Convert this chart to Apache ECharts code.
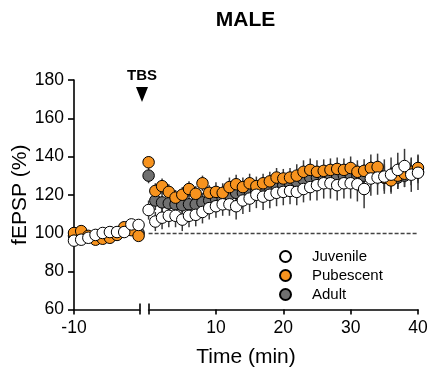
<!DOCTYPE html>
<html><head><meta charset="utf-8">
<script src="https://cdn.jsdelivr.net/npm/echarts@6/dist/echarts.min.js"></script>
<style>html,body{margin:0;padding:0;background:#fff}#c{width:432px;height:379px}</style>
</head><body><div id="c"></div>
<script>
// ---- data ----
const timePre = [-10, -9, -8, -7, -6, -5, -4, -3, -2, -1];
const timePost = [0,1,2,3,4,5,6,7,8,9,10,11,12,13,14,15,16,17,18,19,20,21,22,23,24,25,26,27,28,29,30,31,32,33,34,35,36,37,38,39,40];

const juvenilePre = [96, 96.5, 97.5, 99, 100, 100.5, 100.5, 100.5, 104.5, 104.2];
const pubescentPre = [100, 101, 98.5, 96.5, 97, 97.5, 99, 103, 101.5, 98.5];
const adultPre = [98.5, 98, 98, 98.5, 99, 99.5, 100, 101, 102, 100];
const juvenileErrPre = [1.5, 1.5, 1.5, 1.5, 1.5, 1.5, 1.5, 1.5, 1.5, 1.5];
const pubescentErrPre = [1.5, 1.5, 1.5, 1.5, 1.5, 1.5, 1.5, 1.5, 1.5, 1.5];
const adultErrPre = [1.5, 1.5, 1.5, 1.5, 1.5, 1.5, 1.5, 1.5, 1.5, 1.5];

const juvenilePost = [112, 106, 108, 109, 109, 107, 109, 109.5, 111, 113, 114, 115, 115, 114, 117, 118, 120, 119, 120, 121, 121.5, 122, 121.5, 123, 124, 125, 126, 126, 125, 126, 126, 125.5, 123, 128.5, 129, 129.5, 130.5, 133, 135, 130.5, 131.5];
const pubescentPost = [137, 122, 124.5, 121.5, 118.5, 120, 123, 120.5, 126, 121, 121.5, 121, 124, 125.5, 124, 126, 124.5, 126, 127, 129, 128.5, 129, 130, 132, 133, 132, 132.5, 133, 133.5, 133, 134, 132, 132.5, 134, 134.5, 129, 127.5, 130, 131, 132, 134];
const adultPost = [130, 117, 116, 115.5, 115, 114.5, 115, 115, 116, 117, 118, 118, 120, 121, 121, 122, 122, 123, 124, 125, 125, 126, 127, 128, 129, 129, 129.5, 130, 130, 130, 130.5, 130, 130, 131, 131, 129, 128, 129, 130, 131, 132];
const juvenileErrPost = [5, 5, 6, 6, 6, 6, 6, 6, 6, 6, 6, 6, 6, 7, 7, 7, 7, 7, 7, 7, 7, 7, 7, 7, 7, 8, 8, 8, 8, 8, 8, 9, 10, 9, 9, 9, 9, 9, 9, 9, 9];
const pubescentErrPost = [3, 4, 4, 4, 4, 4, 4, 4, 4, 4, 5, 5, 5, 5, 5, 5, 5, 5, 5, 5, 5, 5, 6, 6, 6, 6, 6, 6, 6, 6, 6, 6, 6, 7, 7, 7, 7, 7, 7, 7, 7];
const adultErrPost = [4, 5, 5, 5, 5, 5, 5, 5, 5, 5, 5, 5, 5, 5, 5, 5, 5, 5, 6, 6, 6, 6, 6, 6, 6, 6, 6, 6, 6, 6, 6, 6, 6, 6, 6, 6, 6, 6, 6, 6, 6];

const yTicks = [60, 80, 100, 120, 140, 160, 180];
const preTickLabels = [-10];
const postTickLabels = [10, 20, 30, 40];
const baseline = 100;

// ---- styles ----
const FONT = 'Liberation Sans, Arial, Helvetica, sans-serif';
const ORANGE = '#F7931E';
const GREY = '#707070';
const AXW = 1.6;
const SYM = 11.5;

function errSeries(name, times, vals, errs, xi, yi) {
  return {
    type: 'custom', name: name, xAxisIndex: xi, yAxisIndex: yi, z: 1, silent: true,
    clip: false,
    data: times.map((t, i) => [t, vals[i] - errs[i], vals[i] + errs[i]]),
    encode: { x: 0, y: [1, 2] },
    renderItem: function (params, api) {
      const lo = api.coord([api.value(0), api.value(1)]);
      const hi = api.coord([api.value(0), api.value(2)]);
      return { type: 'line', shape: { x1: lo[0], y1: lo[1], x2: hi[0], y2: hi[1] },
        style: { stroke: '#3a3a3a', lineWidth: 1.5 } };
    }
  };
}
function dotSeries(name, times, vals, fill, xi, yi, extra) {
  return Object.assign({
    type: 'scatter', name: name, xAxisIndex: xi, yAxisIndex: yi, z: 3,
    symbol: 'circle', symbolSize: SYM, clip: false,
    data: times.map((t, i) => [t, vals[i]]),
    itemStyle: { color: fill, borderColor: '#000', borderWidth: 1, opacity: 1 },
    emphasis: { disabled: true }
  }, extra || {});
}

const chart = echarts.init(document.getElementById('c'), null, { renderer: 'canvas' });
const PRE_MAX = -0.8;
const gridTop = 80, gridH = 229.5;
const HIDDEN_LINE = { show: true, lineStyle: { color: 'rgba(0,0,0,0)', width: 0 } };

chart.setOption({
  animation: false,
  backgroundColor: '#fff',
  textStyle: { fontFamily: FONT },
  grid: [
    { left: 74, top: gridTop, width: 66, height: gridH },
    { left: 148.6, top: gridTop, width: 269.4, height: gridH },
    { left: 74, top: gridTop, width: 344, height: gridH }
  ],
  xAxis: [
    { gridIndex: 0, type: 'value', position: 'bottom', min: -10, max: PRE_MAX, interval: 10 + PRE_MAX,
      axisLine: { show: true, lineStyle: { color: '#000', width: AXW } },
      axisTick: { show: true, length: 5, customValues: [-10, PRE_MAX], lineStyle: { color: '#000', width: AXW } },
      axisLabel: { customValues: preTickLabels, fontSize: 17.5, color: '#000', margin: 10, fontFamily: FONT,
        formatter: v => (preTickLabels.indexOf(v) >= 0 ? String(v) : '') },
      splitLine: { show: false } },
    { gridIndex: 0, type: 'value', position: 'bottom', offset: 0, min: -10, max: PRE_MAX, interval: 10 + PRE_MAX,
      axisLine: HIDDEN_LINE,
      axisTick: { show: true, inside: true, length: 6, customValues: [PRE_MAX], lineStyle: { color: '#000', width: AXW } },
      axisLabel: { show: false }, splitLine: { show: false } },
    { gridIndex: 1, type: 'value', position: 'bottom', min: 0, max: 40, interval: 10,
      axisLine: { show: true, lineStyle: { color: '#000', width: AXW } },
      axisTick: { show: true, length: 5, customValues: [0].concat(postTickLabels), lineStyle: { color: '#000', width: AXW } },
      axisLabel: { customValues: postTickLabels, fontSize: 17.5, color: '#000', margin: 10, fontFamily: FONT,
        formatter: v => (postTickLabels.indexOf(v) >= 0 ? String(v) : '') },
      splitLine: { show: false } },
    { gridIndex: 1, type: 'value', position: 'bottom', offset: 0, min: 0, max: 40, interval: 10,
      axisLine: HIDDEN_LINE,
      axisTick: { show: true, inside: true, length: 6, customValues: [0], lineStyle: { color: '#000', width: AXW } },
      axisLabel: { show: false }, splitLine: { show: false } },
    { gridIndex: 2, type: 'value', position: 'bottom', min: 0, max: 1,
      axisLine: { show: false }, axisTick: { show: false }, axisLabel: { show: false }, splitLine: { show: false },
      name: 'Time (min)', nameLocation: 'middle', nameGap: 37,
      nameTextStyle: { fontSize: 21, color: '#000', fontFamily: FONT } }
  ],
  yAxis: [
    { gridIndex: 0, type: 'value', min: yTicks[0], max: yTicks[yTicks.length - 1], interval: 20,
      axisLine: { show: true, lineStyle: { color: '#000', width: AXW } },
      axisTick: { show: true, length: 6, lineStyle: { color: '#000', width: AXW } },
      axisLabel: { fontSize: 17.5, color: '#000', margin: 10, fontFamily: FONT },
      splitLine: { show: false },
      name: 'fEPSP (%)', nameLocation: 'middle', nameGap: 35,
      nameTextStyle: { fontSize: 21, color: '#000', fontFamily: FONT } },
    { gridIndex: 1, type: 'value', min: 60, max: 180, show: false, splitLine: { show: false } },
    { gridIndex: 2, type: 'value', min: 60, max: 180, show: false, splitLine: { show: false } }
  ],
  legend: {
    data: ['Juvenile', 'Pubescent', 'Adult'],
    orient: 'vertical', left: 274, top: 244,
    itemWidth: 11, itemHeight: 11, itemGap: 4,
    icon: 'circle',
    selectedMode: false,
    textStyle: { fontSize: 15, color: '#000', fontFamily: FONT, padding: [0, 0, 0, 16] }
  },
  graphic: [
    { type: 'text', x: 245.5, y: 20, style: { text: 'MALE', fontSize: 21, fontWeight: 'bold', fontFamily: FONT, fill: '#000', align: 'center', verticalAlign: 'middle' } },
    { type: 'text', x: 142, y: 76, style: { text: 'TBS', fontSize: 15, fontWeight: 'bold', fontFamily: FONT, fill: '#000', align: 'center', verticalAlign: 'middle' } },
    { type: 'polygon', shape: { points: [[136, 87], [148, 87], [142, 102]] }, style: { fill: '#000' } }
  ],
  series: [
    errSeries('Adult-err-pre', timePre, adultPre, adultErrPre, 0, 0),
    errSeries('Pubescent-err-pre', timePre, pubescentPre, pubescentErrPre, 0, 0),
    errSeries('Juvenile-err-pre', timePre, juvenilePre, juvenileErrPre, 0, 0),
    errSeries('Adult-err-post', timePost, adultPost, adultErrPost, 2, 1),
    errSeries('Pubescent-err-post', timePost, pubescentPost, pubescentErrPost, 2, 1),
    errSeries('Juvenile-err-post', timePost, juvenilePost, juvenileErrPost, 2, 1),
    dotSeries('Adult', timePre, adultPre, GREY, 0, 0),
    dotSeries('Pubescent', timePre, pubescentPre, ORANGE, 0, 0),
    dotSeries('Juvenile', timePre, juvenilePre, '#fff', 0, 0),
    dotSeries('Adult', timePost, adultPost, GREY, 2, 1),
    dotSeries('Pubescent', timePost, pubescentPost, ORANGE, 2, 1),
    dotSeries('Juvenile', timePost, juvenilePost, '#fff', 2, 1, {
      markLine: {
        silent: true, symbol: 'none', label: { show: false },
        lineStyle: { type: [4, 2], color: '#444', width: 1.3 },
        data: [[{ coord: [timePost[0], baseline] }, { coord: [timePost[timePost.length - 1], baseline] }]]
      }
    })
  ]
});
</script>
</body></html>
